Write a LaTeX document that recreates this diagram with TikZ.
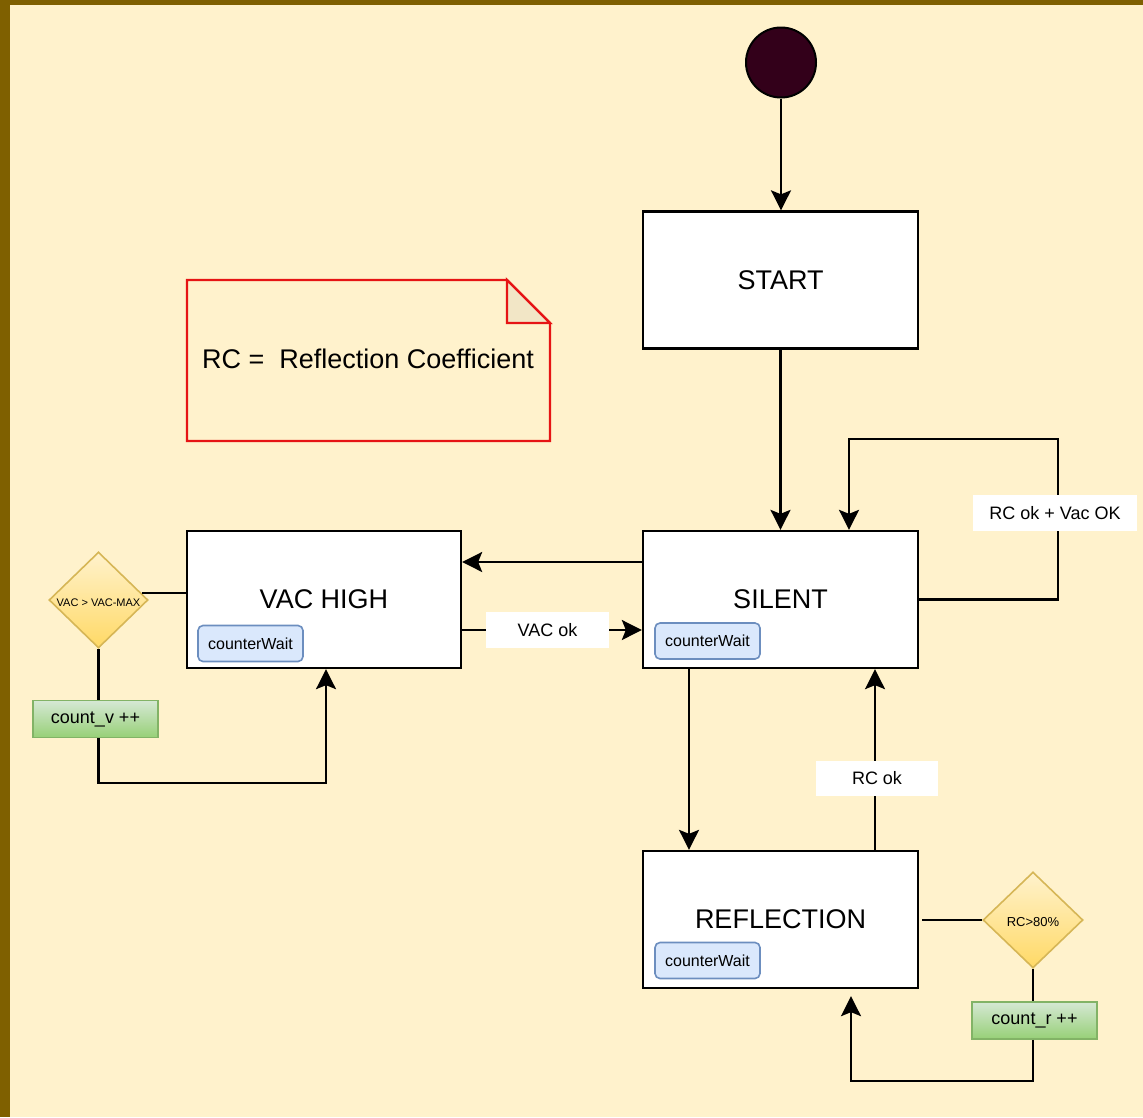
\documentclass[tikz,border=0pt]{standalone}
\usepackage{fontspec}
\setmainfont{Liberation Sans}
\usetikzlibrary{arrows.meta,shapes.geometric}
\definecolor{bg}{HTML}{FFF2CC}
\definecolor{frame}{HTML}{7F6000}
\definecolor{initfill}{HTML}{33001A}
\definecolor{waitfill}{HTML}{DAE8FC}
\definecolor{waitdraw}{HTML}{6C8EBF}
\definecolor{condtop}{HTML}{FFF2CC}
\definecolor{condbot}{HTML}{FFD966}
\definecolor{conddraw}{HTML}{D6B656}
\definecolor{acttop}{HTML}{D5E8D4}
\definecolor{actbot}{HTML}{97D077}
\definecolor{actdraw}{HTML}{82B366}
\definecolor{notered}{RGB}{230,20,20}
\definecolor{notefold}{HTML}{F2E6C6}
\begin{document}
\begin{tikzpicture}[x=1pt,y=-1pt,
  arr/.style={-{Stealth[length=20pt,width=20pt,inset=4pt]}, line width=2.3pt},
  wire/.style={line width=2.3pt},
  statebox/.style={draw=black, fill=white, line width=2.3pt, minimum width=275pt,
    minimum height=137pt, inner sep=0pt, font=\fontsize{27}{32}\selectfont},
  waitbox/.style={draw=waitdraw, fill=waitfill, line width=1.6pt, rounded corners=5pt,
    minimum width=105pt, minimum height=36pt, inner sep=0pt, font=\fontsize{16}{19}\selectfont},
  cond/.style={diamond, draw=conddraw, line width=1.6pt, top color=condtop, bottom color=condbot,
    inner sep=0pt},
  action/.style={draw=actdraw, line width=1.6pt, top color=acttop, bottom color=actbot,
    minimum width=125pt, minimum height=37pt, inner sep=0pt, font=\fontsize{18}{21}\selectfont},
  lbl/.style={fill=white, inner sep=0pt, font=\fontsize{18}{21}\selectfont},
]
\useasboundingbox (0,0) rectangle (1143,1117);
% page background and frame
\fill[bg] (0,0) rectangle (1143,1117);
\fill[frame] (0,0) rectangle (10,1117);
\fill[frame] (0,0) rectangle (1143,5);

% note with folded corner
\draw[notered, line width=2.3pt, fill=bg, line join=miter]
  (187,280) -- (507,280) -- (550,323) -- (550,441) -- (187,441) -- cycle;
\draw[notered, line width=2.3pt, fill=notefold, line join=miter]
  (507,280) -- (507,323) -- (550,323) -- cycle;
\node[font=\fontsize{27}{32}\selectfont, inner sep=0pt] (note) at (368,359)
  {RC =~ Reflection Coefficient};

% states
\node[circle, draw=black, fill=initfill, line width=2pt, minimum size=70pt, inner sep=0pt]
  (init) at (781,62.5) {};
\node[statebox] (start) at (780.5,280) {START};
\node[statebox] (silent) at (780.5,599.5) {SILENT};
\node[statebox, minimum width=274pt] (vachigh) at (324,599.5) {VAC HIGH};
\node[statebox] (reflection) at (780.5,919.5) {REFLECTION};

\node[waitbox] (wsilent) at (707.5,641) {counterWait};
\node[waitbox] (wvac) at (250.5,643.5) {counterWait};
\node[waitbox] (wrefl) at (707.5,960.5) {counterWait};

% conditions and counters
\node[cond, minimum width=99pt, minimum height=96pt] (vdia) at (98.5,600) {};
\node[font=\fontsize{11}{13}\selectfont, inner sep=0pt] (vdiatext) at (98.5,603) {VAC > VAC-MAX};
\node[action] (countv) at (95.5,719) {count\_v ++};

\node[cond, minimum width=100pt, minimum height=96pt] (rdia) at (1033,920) {};
\node[font=\fontsize{13}{15}\selectfont, inner sep=0pt] (rdiatext) at (1033,922) {RC>80\%};
\node[action] (countr) at (1034.5,1020.5) {count\_r ++};

% transitions
\draw[arr] (init.south) -- (init.south |- start.north);
\draw[arr] (start) -- (silent);
\draw[arr] ([yshift=37.5pt]silent.west) -- ([yshift=37.5pt]vachigh.east);
\draw[arr] ([yshift=-30.5pt]vachigh.east) -- ([yshift=-30.5pt]silent.west);
\draw[arr] (silent.east) -- ++(139pt,0pt) |- ([xshift=68.5pt,yshift=91pt]silent.north)
  -- ([xshift=68.5pt]silent.north);
\draw[arr] ([xshift=-91.5pt]silent.south) -- ([xshift=-91.5pt]reflection.north);
\draw[arr] ([xshift=94.5pt]reflection.north) -- ([xshift=94.5pt]silent.south);

% VAC HIGH counting loop
\draw[wire] ([xshift=-7pt,yshift=7pt]vdia.east) -- ([yshift=6.5pt]vachigh.west);
\draw[wire] (vdia.south) -- (vdia.south |- countv.north);
\draw[arr] (vdia.south |- countv.south) |- ([xshift=2pt,yshift=-114pt]vachigh.south)
  -- ([xshift=2pt]vachigh.south);

% REFLECTION counting loop
\draw[wire] ([xshift=3pt]reflection.east |- rdia.west) -- (rdia.west);
\draw[wire] (rdia.south) -- (rdia.south |- countr.north);
\draw[arr, shorten >=7pt] (rdia.south |- countr.south)
  |- ([xshift=70.5pt,yshift=-92pt]reflection.south) -- ([xshift=70.5pt]reflection.south);

% transition labels
\node[lbl, minimum width=123pt, minimum height=36pt] (lvacok) at (547.5,630) {VAC ok};
\node[lbl, minimum width=164pt, minimum height=36pt] (lrcvac) at (1055,513) {RC ok + Vac OK};
\node[lbl, minimum width=122pt, minimum height=35pt] (lrcok) at (877,778.5) {RC ok};
\end{tikzpicture}
\end{document}
